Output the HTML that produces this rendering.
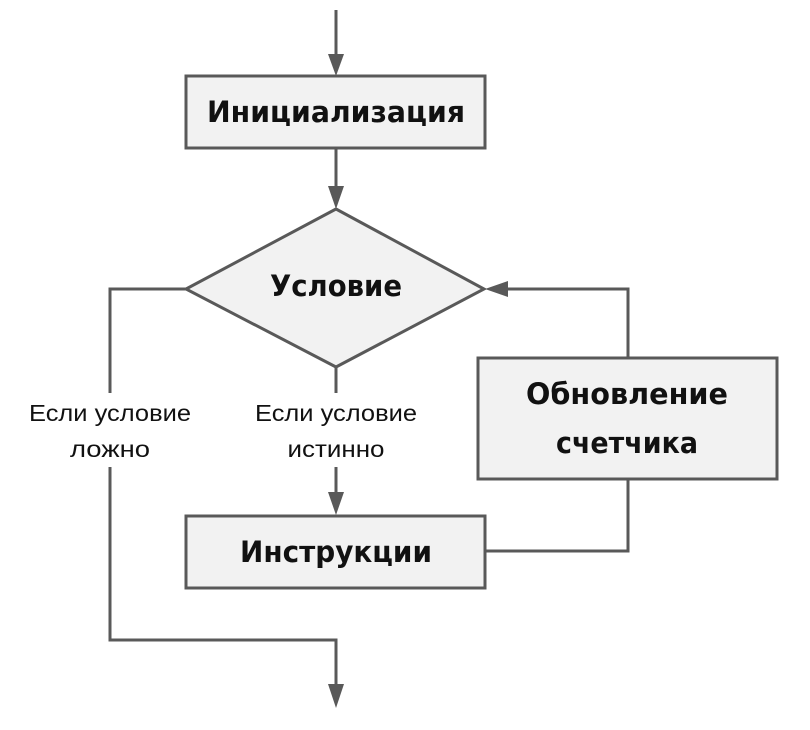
<!DOCTYPE html>
<html><head><meta charset="utf-8"><style>
html,body{margin:0;padding:0;background:#fff;width:810px;height:730px;overflow:hidden}
</style></head><body>
<svg width="810" height="730" viewBox="0 0 810 730" xmlns="http://www.w3.org/2000/svg">
<g stroke="#595959" stroke-width="3" fill="none">
<line x1="336" y1="10" x2="336" y2="55"/>
<line x1="336" y1="148" x2="336" y2="188"/>
<polyline points="186,289 110,289 110,393"/>
<polyline points="110,467 110,640 336,640 336,686"/>
<line x1="336" y1="367" x2="336" y2="393"/>
<line x1="336" y1="467" x2="336" y2="494"/>
<polyline points="485,551 628,551 628,479"/>
<polyline points="628,358 628,289 506,289"/>
</g>
<g fill="#595959">
<polygon points="328,54 344,54 336,76"/>
<polygon points="328,186 344,186 336,209"/>
<polygon points="328,492 344,492 336,515"/>
<polygon points="328,684 344,684 336,708"/>
<polygon points="508,281 508,297 485,289"/>
</g>
<g fill="#f2f2f2" stroke="#595959" stroke-width="3">
<rect x="186" y="76" width="299" height="72"/>
<polygon points="336,209 484,289 336,367 186,289"/>
<rect x="186" y="516" width="299" height="72"/>
<rect x="478" y="358" width="299" height="121"/>
</g>
<g font-family="'DejaVu Sans', 'Liberation Sans', sans-serif" font-weight="bold" font-size="29" fill="#111" text-anchor="middle">
<text x="336" y="122" textLength="258" lengthAdjust="spacingAndGlyphs">Инициализация</text>
<text x="336" y="296" textLength="132" lengthAdjust="spacingAndGlyphs">Условие</text>
<text x="336" y="562" textLength="192" lengthAdjust="spacingAndGlyphs">Инструкции</text>
<text x="627" y="404" textLength="202" lengthAdjust="spacingAndGlyphs">Обновление</text>
<text x="627" y="453" textLength="142" lengthAdjust="spacingAndGlyphs">счетчика</text>
</g>
<g font-family="'Liberation Sans', sans-serif" font-size="23" fill="#111" text-anchor="middle">
<text x="110" y="421" textLength="162" lengthAdjust="spacingAndGlyphs">Если условие</text>
<text x="110" y="457" textLength="80" lengthAdjust="spacingAndGlyphs">ложно</text>
<text x="336" y="421" textLength="162" lengthAdjust="spacingAndGlyphs">Если условие</text>
<text x="336" y="457" textLength="97" lengthAdjust="spacingAndGlyphs">истинно</text>
</g>
</svg>
</body></html>
